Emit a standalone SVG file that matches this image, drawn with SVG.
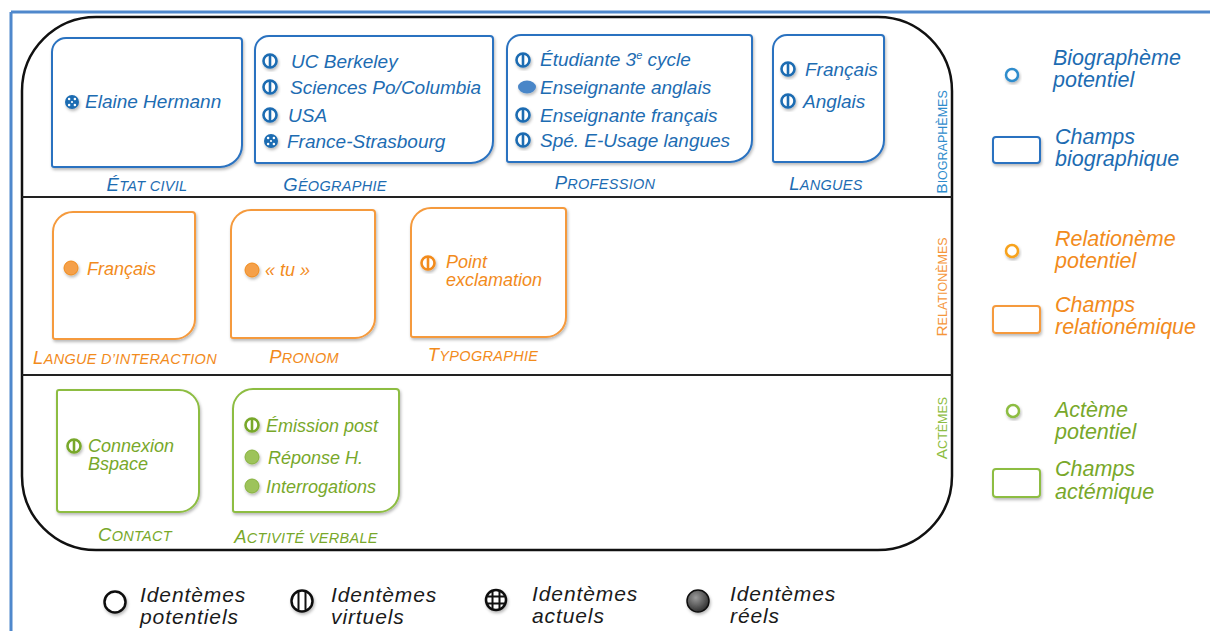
<svg xmlns="http://www.w3.org/2000/svg" xmlns:xlink="http://www.w3.org/1999/xlink" width="1210" height="631" viewBox="0 0 1210 631">
<defs>
<style>
text{font-family:"Liberation Sans",Arial,sans-serif;font-style:italic}
.bt{fill:#1d6cb2;font-size:19px}
.ot{fill:#f28b1c;font-size:18px}
.gt{fill:#78a82a;font-size:18px}
.lab{font-size:14.5px;text-anchor:middle;letter-spacing:0.3px}
.big{font-size:18.5px}
.vl{font-size:12.5px;text-anchor:middle;font-style:normal}
.vbig{font-size:15.5px}
.leg{font-size:21.5px}
.bk{fill:#1a1a1a;font-size:21px;letter-spacing:0.9px}
.bb{fill:#fff;stroke:#2a72c0;stroke-width:2}
.ob{fill:#fff;stroke:#f59a3c;stroke-width:2}
.gb{fill:#fff;stroke:#8dbd42;stroke-width:2}
.sh{filter:url(#shd)}
</style>
<filter id="shd" x="-20%" y="-20%" width="150%" height="150%">
<feDropShadow dx="1" dy="2" stdDeviation="1.5" flood-color="#000" flood-opacity="0.28"/>
</filter>
<g id="virt"><circle cx="0" cy="0" r="6.5" fill="#fff" stroke="currentColor" stroke-width="2.6"/><line x1="0" y1="-6.5" x2="0" y2="6.5" stroke="currentColor" stroke-width="2.6"/></g>
<g id="act"><circle cx="0" cy="0" r="7" fill="currentColor"/><g fill="#fff"><circle cx="-2.9" cy="-2.9" r="1.25"/><circle cx="2.9" cy="-2.9" r="1.25"/><circle cx="-2.9" cy="2.9" r="1.25"/><circle cx="2.9" cy="2.9" r="1.25"/><circle cx="0" cy="0" r="1.1"/></g></g>
<radialGradient id="gray" cx="0.4" cy="0.35" r="0.7"><stop offset="0" stop-color="#9a9a9a"/><stop offset="1" stop-color="#2a2a2a"/></radialGradient>
<clipPath id="cg"><circle cx="0" cy="0" r="10"/></clipPath>
</defs>
<rect x="0" y="0" width="1210" height="631" fill="#fff"/>
<g id="frame">
<line x1="11" y1="12" x2="1210" y2="12" stroke="#4f88cc" stroke-width="3"/>
<line x1="11" y1="12" x2="11" y2="631" stroke="#4f88cc" stroke-width="3"/>
</g>
<g id="container">
<rect x="22" y="17" width="930" height="533" rx="74" ry="74" fill="#fff" stroke="#111" stroke-width="2.5"/>
<line x1="22" y1="197" x2="952" y2="197" stroke="#222" stroke-width="2"/>
<line x1="22" y1="375" x2="952" y2="375" stroke="#222" stroke-width="2"/>
<text class="vl" fill="#2f8ccc" transform="translate(947,142) rotate(-90)"><tspan class="vbig">B</tspan>IOGRAPHÈMES</text>
<text class="vl" fill="#f5963a" transform="translate(947,287) rotate(-90)"><tspan class="vbig">R</tspan>ELATIONÈMES</text>
<text class="vl" fill="#8dbd42" transform="translate(947,428) rotate(-90)"><tspan class="vbig">A</tspan>CTÈMES</text>
</g>
<g id="etat-civil">
<path class="bb sh" d="M66,38 H239 A3,3 0 0 1 242,41 V145 A22,22 0 0 1 220,167 H54 A2,2 0 0 1 52,165 V52 A14,14 0 0 1 66,38 Z"/>
<use href="#act" x="72" y="102" style="color:#1d6cb2" class="sh"/>
<text class="bt" x="85" y="108">Elaine Hermann</text>
<text class="bt lab" x="147" y="191"><tspan class="big">É</tspan>TAT CIVIL</text>
</g>
<g id="geographie">
<path class="bb sh" d="M269,36 H490 A3,3 0 0 1 493,39 V141 A22,22 0 0 1 471,163 H257 A2,2 0 0 1 255,161 V50 A14,14 0 0 1 269,36 Z"/>
<use href="#virt" x="270" y="61" style="color:#1d6cb2" class="sh"/>
<use href="#virt" x="270" y="87" style="color:#1d6cb2" class="sh"/>
<use href="#virt" x="270" y="115" style="color:#1d6cb2" class="sh"/>
<use href="#act" x="271" y="141" style="color:#1d6cb2" class="sh"/>
<text class="bt" x="291" y="68">UC Berkeley</text>
<text class="bt" x="290" y="94">Sciences Po/Columbia</text>
<text class="bt" x="288" y="122">USA</text>
<text class="bt" x="287" y="148">France-Strasbourg</text>
<text class="bt lab" x="335" y="191"><tspan class="big">G</tspan>ÉOGRAPHIE</text>
</g>
<g id="profession">
<path class="bb sh" d="M521,35 H749 A3,3 0 0 1 752,38 V140 A22,22 0 0 1 730,162 H509 A2,2 0 0 1 507,160 V49 A14,14 0 0 1 521,35 Z"/>
<use href="#virt" x="523" y="60" style="color:#1d6cb2" class="sh"/>
<ellipse cx="527" cy="87" rx="9" ry="6.5" fill="#4a86c8" class="sh"/>
<use href="#virt" x="523" y="115" style="color:#1d6cb2" class="sh"/>
<use href="#virt" x="523" y="140" style="color:#1d6cb2" class="sh"/>
<text class="bt" x="540" y="66">Étudiante 3<tspan font-size="11" dy="-7">e</tspan><tspan dy="7"> cycle</tspan></text>
<text class="bt" x="540" y="94">Enseignante anglais</text>
<text class="bt" x="540" y="122">Enseignante français</text>
<text class="bt" x="540" y="147">Spé. E-Usage langues</text>
<text class="bt lab" x="605" y="189"><tspan class="big">P</tspan>ROFESSION</text>
</g>
<g id="langues">
<path class="bb sh" d="M787,35 H881 A3,3 0 0 1 884,38 V140 A22,22 0 0 1 862,162 H775 A2,2 0 0 1 773,160 V49 A14,14 0 0 1 787,35 Z"/>
<use href="#virt" x="788" y="69" style="color:#1d6cb2" class="sh"/>
<use href="#virt" x="788" y="101" style="color:#1d6cb2" class="sh"/>
<text class="bt" x="805" y="76">Français</text>
<text class="bt" x="803" y="108">Anglais</text>
<text class="bt lab" x="826" y="190"><tspan class="big">L</tspan>ANGUES</text>
</g>
<g id="langue-interaction">
<path class="ob sh" d="M73,212 H192 A3,3 0 0 1 195,215 V319 A20,20 0 0 1 175,339 H55 A2,2 0 0 1 53,337 V232 A20,20 0 0 1 73,212 Z"/>
<circle cx="71" cy="268" r="7" fill="#f5a04a" stroke="#f08a1a" stroke-width="1" class="sh"/>
<text class="ot" x="87" y="275">Français</text>
<text class="ot lab" x="125" y="364"><tspan class="big">L</tspan>ANGUE D’INTERACTION</text>
</g>
<g id="pronom">
<path class="ob sh" d="M251,210 H372 A3,3 0 0 1 375,213 V318 A20,20 0 0 1 355,338 H233 A2,2 0 0 1 231,336 V230 A20,20 0 0 1 251,210 Z"/>
<circle cx="252" cy="270" r="7" fill="#f5a04a" stroke="#f08a1a" stroke-width="1" class="sh"/>
<text class="ot" x="265" y="276">« tu »</text>
<text class="ot lab" x="304" y="363"><tspan class="big">P</tspan>RONOM</text>
</g>
<g id="typographie">
<path class="ob sh" d="M431,208 H563 A3,3 0 0 1 566,211 V317 A20,20 0 0 1 546,337 H413 A2,2 0 0 1 411,335 V228 A20,20 0 0 1 431,208 Z"/>
<use href="#virt" x="428" y="263" style="color:#f28b1c" class="sh"/>
<text class="ot" x="446" y="268">Point</text>
<text class="ot" x="446" y="286">exclamation</text>
<text class="ot lab" x="483" y="361"><tspan class="big">T</tspan>YPOGRAPHIE</text>
</g>
<g id="contact">
<path class="gb sh" d="M59,390 H179 A20,20 0 0 1 199,410 V492 A20,20 0 0 1 179,512 H60 A3,3 0 0 1 57,509 V392 A2,2 0 0 1 59,390 Z"/>
<use href="#virt" x="74" y="446" style="color:#78a82a" class="sh"/>
<text class="gt" x="88" y="452">Connexion</text>
<text class="gt" x="88" y="470">Bspace</text>
<text class="gt lab" x="135" y="541"><tspan class="big">C</tspan>ONTACT</text>
</g>
<g id="activite-verbale">
<path class="gb sh" d="M253,389 H396 A3,3 0 0 1 399,392 V492 A20,20 0 0 1 379,512 H235 A2,2 0 0 1 233,510 V409 A20,20 0 0 1 253,389 Z"/>
<use href="#virt" x="252" y="425" style="color:#78a82a" class="sh"/>
<circle cx="252" cy="457" r="7" fill="#9dc35a" stroke="#86b13c" stroke-width="1" class="sh"/>
<circle cx="252" cy="486" r="7" fill="#9dc35a" stroke="#86b13c" stroke-width="1" class="sh"/>
<text class="gt" x="266" y="432">Émission post</text>
<text class="gt" x="268" y="464">Réponse H.</text>
<text class="gt" x="266" y="493">Interrogations</text>
<text class="gt lab" x="306" y="543"><tspan class="big">A</tspan>CTIVITÉ VERBALE</text>
</g>
<g id="legend-biographeme">
<circle cx="1012" cy="75" r="6" fill="#fff" stroke="#2f8ccc" stroke-width="2.5" class="sh"/>
<text class="leg" fill="#1d6cb2" x="1053" y="65">Biographème</text>
<text class="leg" fill="#1d6cb2" x="1053" y="87">potentiel</text>
</g>
<g id="legend-champs-bio">
<rect x="993" y="137" width="47" height="26" rx="3" fill="#fff" stroke="#2a72c0" stroke-width="2" class="sh"/>
<text class="leg" fill="#1d6cb2" x="1055" y="144">Champs</text>
<text class="leg" fill="#1d6cb2" x="1055" y="166">biographique</text>
</g>
<g id="legend-relationeme">
<circle cx="1012" cy="251" r="6" fill="#fff" stroke="#f7a21a" stroke-width="2.5" class="sh"/>
<text class="leg" fill="#f28b1c" x="1055" y="246">Relationème</text>
<text class="leg" fill="#f28b1c" x="1055" y="268">potentiel</text>
</g>
<g id="legend-champs-rel">
<rect x="993" y="306" width="47" height="27" rx="3" fill="#fff" stroke="#f59a3c" stroke-width="2" class="sh"/>
<text class="leg" fill="#f28b1c" x="1055" y="312">Champs</text>
<text class="leg" fill="#f28b1c" x="1055" y="334">relationémique</text>
</g>
<g id="legend-acteme">
<circle cx="1013" cy="411" r="6" fill="#fff" stroke="#8dbd42" stroke-width="2.5" class="sh"/>
<text class="leg" fill="#78a82a" x="1055" y="417">Actème</text>
<text class="leg" fill="#78a82a" x="1055" y="439">potentiel</text>
</g>
<g id="legend-champs-act">
<rect x="993" y="469" width="47" height="28" rx="3" fill="#fff" stroke="#8dbd42" stroke-width="2" class="sh"/>
<text class="leg" fill="#78a82a" x="1055" y="476">Champs</text>
<text class="leg" fill="#78a82a" x="1055" y="499">actémique</text>
</g>
<g id="legend-potentiels">
<circle cx="115" cy="602" r="10.5" fill="#fff" stroke="#111" stroke-width="2.5" class="sh"/>
<text class="bk" x="140" y="602">Identèmes</text>
<text class="bk" x="140" y="624">potentiels</text>
</g>
<g id="legend-virtuels">
<circle cx="302" cy="601" r="10.5" fill="#fff" stroke="#111" stroke-width="2.5" class="sh"/>
<line x1="298.5" y1="591.5" x2="298.5" y2="610.5" stroke="#111" stroke-width="2"/>
<line x1="305.5" y1="591.5" x2="305.5" y2="610.5" stroke="#111" stroke-width="2"/>
<text class="bk" x="331" y="602">Identèmes</text>
<text class="bk" x="331" y="624">virtuels</text>
</g>
<g id="legend-actuels">
<circle cx="496" cy="600" r="10" fill="#fff" stroke="#111" stroke-width="2.5" class="sh"/>
<g transform="translate(496,600)" clip-path="url(#cg)" stroke="#111" stroke-width="2">
<line x1="-3.5" y1="-11" x2="-3.5" y2="11"/><line x1="3.5" y1="-11" x2="3.5" y2="11"/>
<line x1="-11" y1="-3.5" x2="11" y2="-3.5"/><line x1="-11" y1="3.5" x2="11" y2="3.5"/>
</g>
<text class="bk" x="532" y="601">Identèmes</text>
<text class="bk" x="532" y="623">actuels</text>
</g>
<g id="legend-reels">
<circle cx="698" cy="601" r="11" fill="url(#gray)" stroke="#111" stroke-width="1.5" class="sh"/>
<text class="bk" x="730" y="601">Identèmes</text>
<text class="bk" x="730" y="623">réels</text>
</g>
</svg>
